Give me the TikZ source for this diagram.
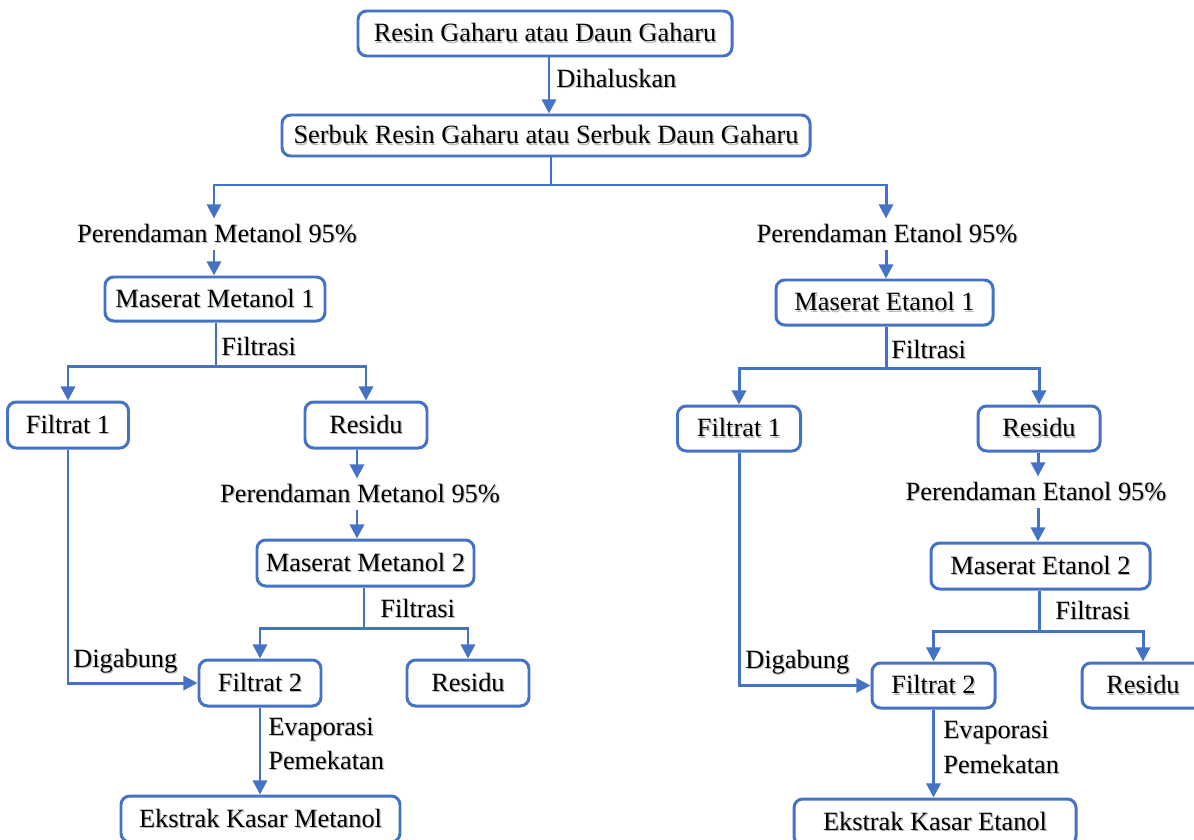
\documentclass[tikz,border=0pt]{standalone}
\usepackage{fontspec}
\setmainfont{Liberation Serif}
\usetikzlibrary{arrows.meta}
\newlength\pu \setlength\pu{0.02cm}
\definecolor{flow}{HTML}{4472C4}
\newcommand\shtxt[1]{\makebox[0pt][l]{\raisebox{-0.7pt}{\hspace{0.7pt}\textcolor{black!28}{#1}}}#1}
\begin{document}
\begin{tikzpicture}[x=0.02cm,y=-0.02cm,
  every node/.style={font=\fontsize{15pt}{18pt}\selectfont, text=black},
  box/.style={draw=flow, line width=1.7pt, rounded corners=5pt, fill=white, inner sep=0pt, align=center},
  lbl/.style={inner sep=0pt, anchor=base west},
  plbl/.style={inner sep=3pt},
  link/.style={draw=flow, line width=1.7pt},
  arr/.style={link, -{Triangle[width=8pt,length=8pt]}}]
\clip (0,0) rectangle (1194,839);
\fill[white] (0,0) rectangle (1194,839);

% top
\node[box, minimum width=374\pu, minimum height=45\pu] (A) at (545,33.5) {\shtxt{Resin Gaharu atau Daun Gaharu}};
\node[box, minimum width=528\pu, minimum height=41\pu] (B) at (546,135.5) {\shtxt{Serbuk Resin Gaharu atau Serbuk Daun Gaharu}};
\node[lbl] (dih) at (556,87) {\shtxt{Dihaluskan}};

% left column
\node[plbl] (PM1) at (217,234) {\shtxt{Perendaman Metanol 95\%}};
\node[box, minimum width=220\pu, minimum height=44\pu] (MM1) at (215,299) {\shtxt{Maserat Metanol 1}};
\node[lbl] (fm1) at (221,355) {\shtxt{Filtrasi}};
\node[box, minimum width=121\pu, minimum height=46\pu] (F1L) at (68,425) {\shtxt{Filtrat 1}};
\node[box, minimum width=122\pu, minimum height=46\pu] (RL) at (366,425) {\shtxt{Residu}};
\node[plbl] (PM2) at (360,494) {\shtxt{Perendaman Metanol 95\%}};
\node[box, minimum width=217\pu, minimum height=46\pu] (MM2) at (365.5,563) {\shtxt{Maserat Metanol 2}};
\node[lbl] (fm2) at (380,617) {\shtxt{Filtrasi}};
\node[box, minimum width=122\pu, minimum height=46\pu] (F2L) at (260,683) {\shtxt{Filtrat 2}};
\node[box, minimum width=122\pu, minimum height=46\pu] (R2L) at (468,683) {\shtxt{Residu}};
\node[lbl] (dgL) at (73,667) {\shtxt{Digabung}};
\node[lbl] (evL) at (268,735) {\shtxt{Evaporasi}};
\node[lbl] (pmL) at (268,769) {\shtxt{Pemekatan}};
\node[box, minimum width=279\pu, minimum height=46\pu] (EKM) at (260.5,819) {\shtxt{Ekstrak Kasar Metanol}};

% right column
\node[plbl] (PE1) at (887,234) {\shtxt{Perendaman Etanol 95\%}};
\node[box, minimum width=217\pu, minimum height=45\pu] (ME1) at (884.5,302.5) {\shtxt{Maserat Etanol 1}};
\node[lbl] (fe1) at (891,358) {\shtxt{Filtrasi}};
\node[box, minimum width=123\pu, minimum height=45\pu] (F1R) at (739,428.5) {\shtxt{Filtrat 1}};
\node[box, minimum width=122\pu, minimum height=45\pu] (RR) at (1039,428.5) {\shtxt{Residu}};
\node[plbl] (PE2) at (1036,492) {\shtxt{Perendaman Etanol 95\%}};
\node[box, minimum width=219\pu, minimum height=46\pu] (ME2) at (1040.5,566) {\shtxt{Maserat Etanol 2}};
\node[lbl] (fe2) at (1055,619) {\shtxt{Filtrasi}};
\node[box, minimum width=123\pu, minimum height=45\pu] (F2R) at (933.5,685.5) {\shtxt{Filtrat 2}};
\node[box, minimum width=122\pu, minimum height=45\pu] (R2R) at (1143,685.5) {\shtxt{Residu}};
\node[lbl] (dgR) at (745,668) {\shtxt{Digabung}};
\node[lbl] (evR) at (943,738) {\shtxt{Evaporasi}};
\node[lbl] (pmR) at (943,773) {\shtxt{Pemekatan}};
\node[box, minimum width=282\pu, minimum height=46\pu] (EKE) at (935,822) {\shtxt{Ekstrak Kasar Etanol}};

% helper coordinates
\coordinate (xA) at (549,0);
\coordinate (jB) at (551,185);
\coordinate (xl) at (214,0);
\coordinate (xr) at (886,0);
\coordinate (jM1) at (216,366);
\coordinate (x2) at (357,0);
\coordinate (jM2) at (364,628);
\coordinate (jE1) at (886,368);
\coordinate (x4) at (1038,0);
\coordinate (jE2) at (1039,631);

% connectors
\draw[arr] (A.south -| xA) -- (B.north -| xA);
\draw[link] (B.south -| jB) -- (jB);
\draw[arr] (jB) -| (PM1.north -| xl);
\draw[arr] (jB) -| (PE1.north -| xr);
\draw[arr] (PM1.south -| xl) -- (MM1.north -| xl);
\draw[arr] (PE1.south -| xr) -- (ME1.north -| xr);

\draw[link] (MM1.south -| jM1) -- (jM1);
\draw[arr] (jM1) -| (F1L.north);
\draw[arr] (jM1) -| (RL.north);
\draw[arr] (RL.south -| x2) -- (PM2.north -| x2);
\draw[arr] (PM2.south -| x2) -- (MM2.north -| x2);
\draw[link] (MM2.south -| jM2) -- (jM2);
\draw[arr] (jM2) -| (F2L.north);
\draw[arr] (jM2) -| (R2L.north);
\draw[arr] (F1L.south) |- (F2L.west);
\draw[arr] (F2L.south) -- (EKM.north -| F2L.south);

\draw[link] (ME1.south -| jE1) -- (jE1);
\draw[arr] (jE1) -| (F1R.north);
\draw[arr] (jE1) -| (RR.north);
\draw[arr] (RR.south -| x4) -- (PE2.north -| x4);
\draw[arr] (PE2.south -| x4) -- (ME2.north -| x4);
\draw[link] (ME2.south -| jE2) -- (jE2);
\draw[arr] (jE2) -| (F2R.north);
\draw[arr] (jE2) -| (R2R.north);
\draw[arr] (F1R.south) |- (F2R.west);
\draw[arr] (F2R.south) -- (EKE.north -| F2R.south);
\end{tikzpicture}
\end{document}
